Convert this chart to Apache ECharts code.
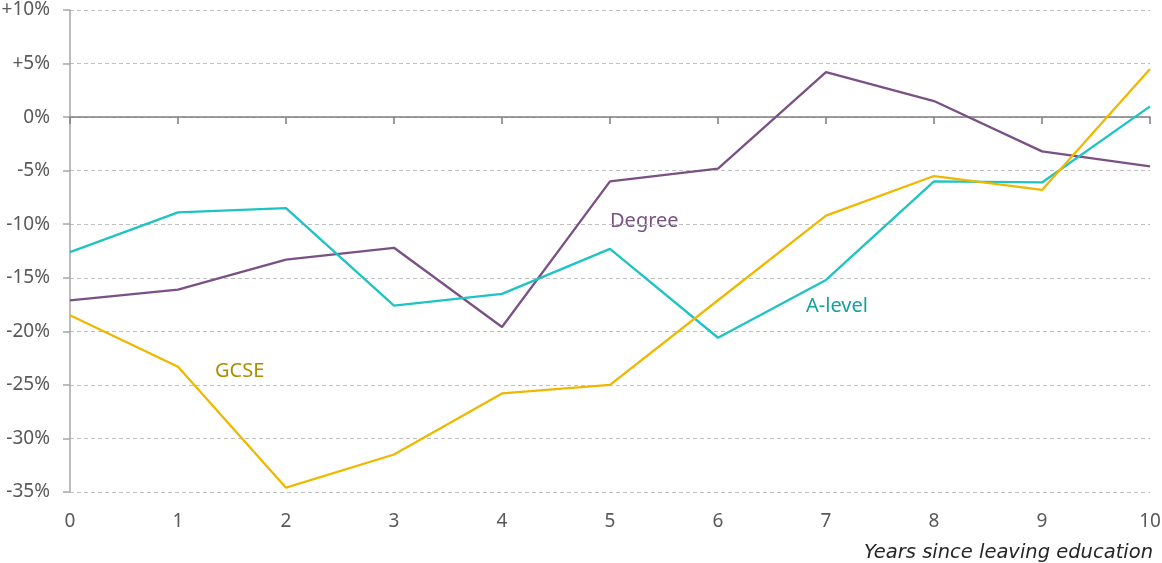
<html>
<head>
  <script src="https://cdn.jsdelivr.net/npm/echarts@6/dist/echarts.min.js"></script>
</head>
<body style="margin:0">
  <div id="container" style="width:1162px;height:563px;"></div>
<script>
  const YEARS = ['0', '1', '2', '3', '4', '5', '6', '7', '8', '9', '10'];
  const DEGREE = [-17.1, -16.1, -13.3, -12.2, -19.6, -6.0, -4.8, 4.2, 1.5, -3.2, -4.6];
  const A_LEVEL = [-12.6, -8.9, -8.5, -17.6, -16.5, -12.3, -20.6, -15.2, -6.0, -6.1, 1.0];
  const GCSE = [-18.5, -23.3, -34.6, -31.5, -25.8, -25.0, -17.1, -9.2, -5.5, -6.8, 4.5];

  const FONT = 'Noto Sans';
  const GREY = '#595959';

  function lineSeries(name, data, color, axis) {
    return {
      name,
      type: 'line',
      data,
      xAxisIndex: axis,
      symbol: 'none',
      lineStyle: { color, width: 2.3 },
      itemStyle: { color },
      z: 3
    };
  }

  let mychart = echarts.init(document.getElementById('container'));

  var option = {
    animation: false,
    grid: { left: 70, right: 12, top: 10, bottom: 71, outerBoundsMode: 'none', containLabel: false },
    xAxis: [
      {
        // axis line through zero with ticks, no labels
        type: 'category',
        data: YEARS,
        boundaryGap: false,
        axisLine: { onZero: true, lineStyle: { color: '#7f7f7f', width: 1.5 } },
        axisTick: { show: true, length: 7, lineStyle: { color: '#7f7f7f', width: 1.5 } },
        axisLabel: { show: false },
        splitLine: { show: false }
      },
      {
        // bottom labels only
        type: 'category',
        data: YEARS,
        boundaryGap: false,
        position: 'bottom',
        axisLine: { show: false, onZero: false },
        axisTick: { show: false },
        axisLabel: { color: GREY, fontFamily: FONT, fontSize: 19, margin: 14 },
        splitLine: { show: false }
      }
    ],
    yAxis: {
      type: 'value',
      min: -35,
      max: 10,
      interval: 5,
      axisLine: { show: true, lineStyle: { color: '#a6a6a6', width: 1.5 } },
      axisTick: { show: true, length: 7, lineStyle: { color: '#a6a6a6', width: 1.5 } },
      axisLabel: {
        color: GREY,
        fontFamily: FONT,
        fontSize: 19,
        margin: 20,
        formatter: v => (v > 0 ? '+' : '') + v + '%'
      },
      splitLine: { show: true, lineStyle: { color: '#bfbfbf', type: [4, 3], width: 1 } }
    },
    series: [
      lineSeries('Degree', DEGREE, '#7a5085', 0),
      lineSeries('A-level', A_LEVEL, '#1ec3c3', 0),
      lineSeries('GCSE', GCSE, '#efb800', 0)
    ],
    graphic: [
      { type: 'text', left: 610, top: 205, style: { text: 'Degree', fill: '#7a5085', font: '20px "Noto Sans"' } },
      { type: 'text', left: 806, top: 290, style: { text: 'A-level', fill: '#15a09e', font: '20px "Noto Sans"' } },
      { type: 'text', left: 215, top: 355, style: { text: 'GCSE', fill: '#ad8c04', font: '20px "Noto Sans"' } },
      { type: 'text', right: 9, top: 534, style: { text: 'Years since leaving education', fill: '#262626', font: 'italic 19.5px "DejaVu Sans"' } }
    ]
  };

  mychart.setOption(option);
</script>
</body>
</html>
